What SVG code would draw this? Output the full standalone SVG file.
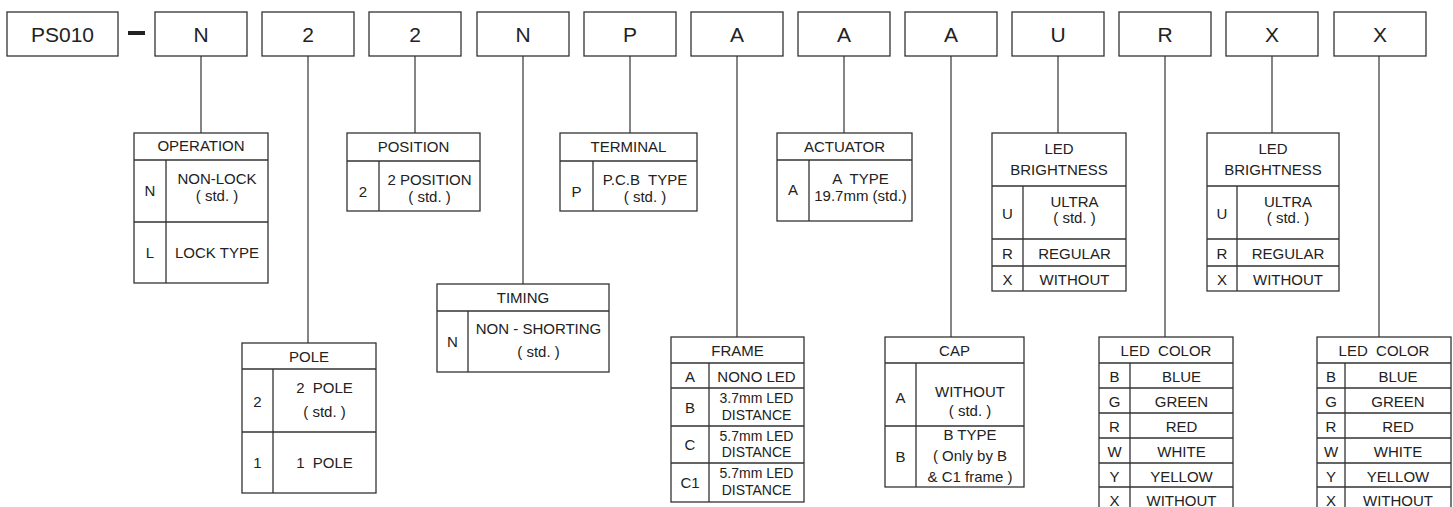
<svg xmlns="http://www.w3.org/2000/svg" width="1453" height="507" viewBox="0 0 1453 507">
<style>
.b{fill:#fff;stroke:#333;stroke-width:1.3}
.l{stroke:#333;stroke-width:1.3;fill:none}
.c{stroke:#444;stroke-width:1.3;fill:none}
text{font-family:"Liberation Sans",Arial,sans-serif;fill:#222;text-anchor:middle}
.t{font-size:21px}
.s{font-size:15px;white-space:pre}
.m{font-size:14px}
</style>
<rect width="1453" height="507" fill="#fff"/>
<g id="connectors">
<path class="c" d="M201 56V133M308 56V343M415 56V133M523 56V284M630 56V133M737 56V337M844 56V133M951 56V337M1058 56V133M1165 56V337M1272 56V133M1379 56V337"/>
</g>
<g id="code">
<g id="b-ps010"><rect class="b" x="7" y="12" width="111" height="44"/><text class="t" x="62.5" y="42">PS010</text></g>
<rect x="128" y="31" width="17" height="4" fill="#222"/>
<g id="b1"><rect class="b" x="155" y="12" width="92" height="44"/><text class="t" x="201" y="42">N</text></g>
<g id="b2"><rect class="b" x="262" y="12" width="92" height="44"/><text class="t" x="308" y="42">2</text></g>
<g id="b3"><rect class="b" x="369" y="12" width="92" height="44"/><text class="t" x="415" y="42">2</text></g>
<g id="b4"><rect class="b" x="477" y="12" width="92" height="44"/><text class="t" x="523" y="42">N</text></g>
<g id="b5"><rect class="b" x="584" y="12" width="92" height="44"/><text class="t" x="630" y="42">P</text></g>
<g id="b6"><rect class="b" x="691" y="12" width="92" height="44"/><text class="t" x="737" y="42">A</text></g>
<g id="b7"><rect class="b" x="798" y="12" width="92" height="44"/><text class="t" x="844" y="42">A</text></g>
<g id="b8"><rect class="b" x="905" y="12" width="92" height="44"/><text class="t" x="951" y="42">A</text></g>
<g id="b9"><rect class="b" x="1012" y="12" width="92" height="44"/><text class="t" x="1058" y="42">U</text></g>
<g id="b10"><rect class="b" x="1119" y="12" width="92" height="44"/><text class="t" x="1165" y="42">R</text></g>
<g id="b11"><rect class="b" x="1226" y="12" width="92" height="44"/><text class="t" x="1272" y="42">X</text></g>
<g id="b12"><rect class="b" x="1334" y="12" width="92" height="44"/><text class="t" x="1380" y="42">X</text></g>
</g>
<g id="t-operation">
<rect class="b" x="134" y="133" width="134" height="150"/>
<path class="l" d="M134 160H268M134 222H268M166 160V283"/>
<text class="s" x="201" y="151">OPERATION</text>
<text class="s" x="150" y="196">N</text><text class="s" x="217" y="184">NON-LOCK</text><text class="s" x="217" y="201">( std. )</text>
<text class="s" x="150" y="258">L</text><text class="s" x="217" y="258">LOCK TYPE</text>
</g>
<g id="t-position">
<rect class="b" x="347" y="133" width="133" height="78"/>
<path class="l" d="M347 161H480M379 161V211"/>
<text class="s" x="413.5" y="152">POSITION</text>
<text class="s" x="363" y="197">2</text><text class="s" x="429.5" y="185">2 POSITION</text><text class="s" x="429.5" y="202">( std. )</text>
</g>
<g id="t-terminal">
<rect class="b" x="560" y="133" width="137" height="78"/>
<path class="l" d="M560 161H697M593 161V211"/>
<text class="s" x="628.5" y="152">TERMINAL</text>
<text class="s" x="576.5" y="197">P</text><text class="s" x="645" y="185">P.C.B  TYPE</text><text class="s" x="645" y="202">( std. )</text>
</g>
<g id="t-actuator">
<rect class="b" x="777" y="133" width="135" height="88"/>
<path class="l" d="M777 160H912M809 160V221"/>
<text class="s" x="844.5" y="152">ACTUATOR</text>
<text class="s" x="793" y="195">A</text><text class="s" x="860.5" y="184">A  TYPE</text><text class="s" x="860.5" y="201">19.7mm (std.)</text>
</g>
<g id="t-brightness1">
<rect class="b" x="992" y="133" width="134" height="158"/>
<path class="l" d="M992 186H1126M992 239H1126M992 266H1126M1023 186V291"/>
<text class="s" x="1059" y="154">LED</text><text class="s" x="1059" y="175">BRIGHTNESS</text>
<text class="s" x="1007.5" y="219">U</text><text class="s" x="1074.5" y="207">ULTRA</text><text class="s" x="1074.5" y="223">( std. )</text>
<text class="s" x="1007.5" y="259">R</text><text class="s" x="1074.5" y="259">REGULAR</text>
<text class="s" x="1007.5" y="285">X</text><text class="s" x="1074.5" y="285">WITHOUT</text>
</g>
<g id="t-brightness2">
<rect class="b" x="1207" y="133" width="132" height="158"/>
<path class="l" d="M1207 186H1339M1207 239H1339M1207 266H1339M1237 186V291"/>
<text class="s" x="1273" y="154">LED</text><text class="s" x="1273" y="175">BRIGHTNESS</text>
<text class="s" x="1222" y="219">U</text><text class="s" x="1288" y="207">ULTRA</text><text class="s" x="1288" y="223">( std. )</text>
<text class="s" x="1222" y="259">R</text><text class="s" x="1288" y="259">REGULAR</text>
<text class="s" x="1222" y="285">X</text><text class="s" x="1288" y="285">WITHOUT</text>
</g>
<g id="t-pole">
<rect class="b" x="242" y="343" width="134" height="150"/>
<path class="l" d="M242 369H376M242 432H376M273 369V493"/>
<text class="s" x="309" y="362">POLE</text>
<text class="s" x="257.5" y="407">2</text><text class="s" x="324.5" y="393">2  POLE</text><text class="s" x="324.5" y="417">( std. )</text>
<text class="s" x="257.5" y="468">1</text><text class="s" x="324.5" y="468">1  POLE</text>
</g>
<g id="t-timing">
<rect class="b" x="437" y="284" width="172" height="88"/>
<path class="l" d="M437 311H609M468 311V372"/>
<text class="s" x="523" y="303">TIMING</text>
<text class="s" x="452.5" y="347">N</text><text class="s" x="538.5" y="334">NON - SHORTING</text><text class="s" x="538.5" y="357">( std. )</text>
</g>
<g id="t-frame">
<rect class="b" x="671" y="337" width="133" height="165"/>
<path class="l" d="M671 363H804M671 388H804M671 426H804M671 463H804M709 363V502"/>
<text class="s" x="737.5" y="356">FRAME</text>
<text class="s" x="690" y="382">A</text><text class="s" x="756.5" y="382">NONO LED</text>
<text class="s" x="690" y="413">B</text><text class="m" x="756.5" y="403">3.7mm LED</text><text class="m" x="756.5" y="420">DISTANCE</text>
<text class="s" x="690" y="450">C</text><text class="m" x="756.5" y="441">5.7mm LED</text><text class="m" x="756.5" y="457">DISTANCE</text>
<text class="s" x="690" y="488">C1</text><text class="m" x="756.5" y="478">5.7mm LED</text><text class="m" x="756.5" y="495">DISTANCE</text>
</g>
<g id="t-cap">
<rect class="b" x="885" y="337" width="139" height="150"/>
<path class="l" d="M885 363H1024M885 426H1024M916 363V487"/>
<text class="s" x="954.5" y="356">CAP</text>
<text class="s" x="900.5" y="403">A</text><text class="s" x="970" y="397">WITHOUT</text><text class="s" x="970" y="416">( std. )</text>
<text class="s" x="900.5" y="462">B</text><text class="s" x="970" y="440">B TYPE</text><text class="s" x="970" y="461">( Only by B</text><text class="s" x="970" y="482">&amp; C1 frame )</text>
</g>
<g id="t-color1">
<rect class="b" x="1099" y="337" width="134" height="180"/>
<path class="l" d="M1099 363H1233M1099 388H1233M1099 413H1233M1099 438H1233M1099 463H1233M1099 487H1233M1130 363V517"/>
<text class="s" x="1166" y="356">LED  COLOR</text>
<text class="s" x="1114.5" y="382">B</text><text class="s" x="1181.5" y="382">BLUE</text>
<text class="s" x="1114.5" y="407">G</text><text class="s" x="1181.5" y="407">GREEN</text>
<text class="s" x="1114.5" y="432">R</text><text class="s" x="1181.5" y="432">RED</text>
<text class="s" x="1114.5" y="457">W</text><text class="s" x="1181.5" y="457">WHITE</text>
<text class="s" x="1114.5" y="482">Y</text><text class="s" x="1181.5" y="482">YELLOW</text>
<text class="s" x="1114.5" y="506">X</text><text class="s" x="1181.5" y="506">WITHOUT</text>
</g>
<g id="t-color2">
<rect class="b" x="1317" y="337" width="134" height="180"/>
<path class="l" d="M1317 363H1451M1317 388H1451M1317 413H1451M1317 438H1451M1317 463H1451M1317 487H1451M1345 363V517"/>
<text class="s" x="1384" y="356">LED  COLOR</text>
<text class="s" x="1331" y="382">B</text><text class="s" x="1398" y="382">BLUE</text>
<text class="s" x="1331" y="407">G</text><text class="s" x="1398" y="407">GREEN</text>
<text class="s" x="1331" y="432">R</text><text class="s" x="1398" y="432">RED</text>
<text class="s" x="1331" y="457">W</text><text class="s" x="1398" y="457">WHITE</text>
<text class="s" x="1331" y="482">Y</text><text class="s" x="1398" y="482">YELLOW</text>
<text class="s" x="1331" y="506">X</text><text class="s" x="1398" y="506">WITHOUT</text>
</g>
</svg>
